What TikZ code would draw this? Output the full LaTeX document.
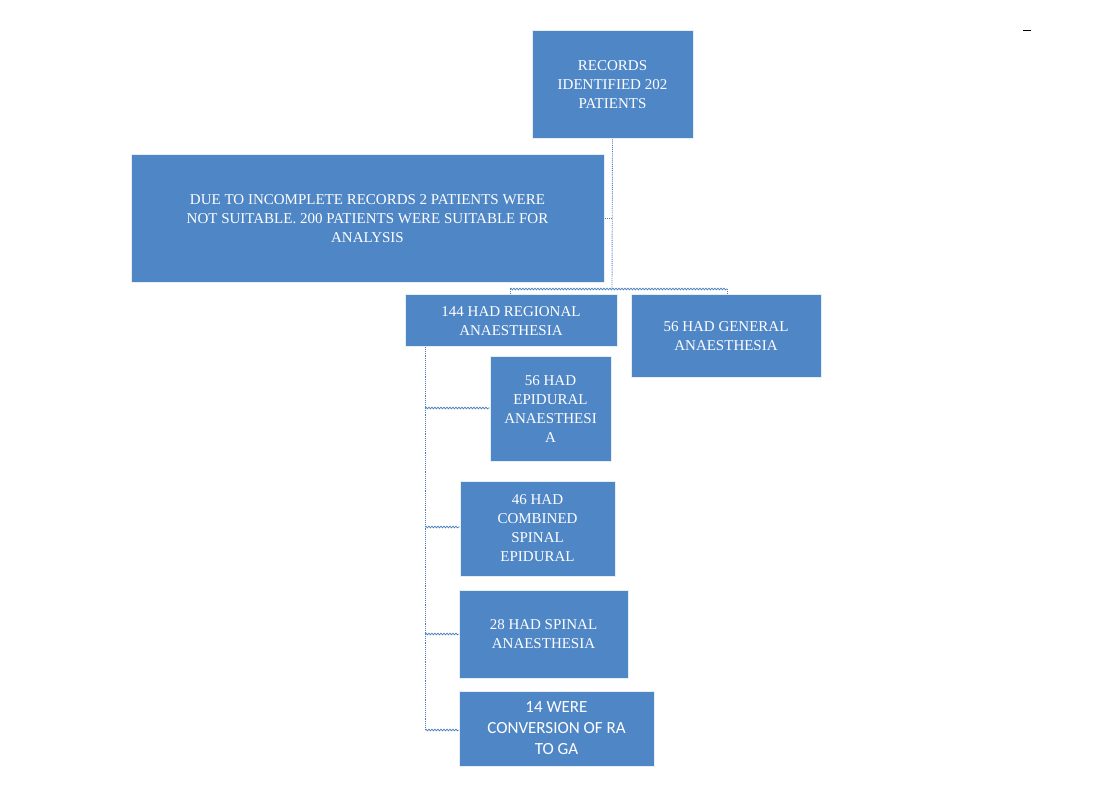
\documentclass[tikz,border=0pt]{standalone}
\usepackage{fontspec}
\setmainfont{Liberation Serif}
\newfontfamily\carl{Carlito}
\usetikzlibrary{decorations.pathmorphing}
\definecolor{boxblue}{HTML}{4F86C6}
\definecolor{linkblue}{HTML}{4A7EBB}
\begin{document}
\begin{tikzpicture}[x=1pt,y=-1pt,
  box/.style={fill=boxblue,draw=white!85!boxblue,line width=1pt,text=white,align=center,font=\fontsize{15}{19}\selectfont,inner sep=0pt},
  link/.style={draw=linkblue,line width=0.9pt,densely dotted},
  wavy/.style={draw=linkblue,line width=0.7pt,decorate,decoration={snake,amplitude=0.9pt,segment length=3pt}}]
\useasboundingbox (0,0) rectangle (1106,802);
\fill[white] (0,0) rectangle (1106,802);
\def\bx#1#2#3#4#5#6{\node[box,minimum width=#4-#2,minimum height=#5-#3] (#1) at ({(#2+#4)/2},{(#3+#5)/2}) {#6};}
\bx{rec}{532}{31}{693}{139}{RECORDS\\IDENTIFIED 202\\PATIENTS}
\bx{due}{131}{155}{604}{283}{DUE TO INCOMPLETE RECORDS 2 PATIENTS WERE\\NOT SUITABLE. 200 PATIENTS WERE SUITABLE FOR\\ANALYSIS}
\bx{reg}{405}{295}{617}{347}{144 HAD REGIONAL\\ANAESTHESIA}
\bx{gen}{631}{295}{821}{377}{56 HAD GENERAL\\ANAESTHESIA}
\bx{epi}{490}{357}{611}{461}{56 HAD\\EPIDURAL\\ANAESTHESI\\A}
\bx{cse}{460}{481}{615}{576}{46 HAD\\COMBINED\\SPINAL\\EPIDURAL}
\bx{spi}{459}{590}{628}{678}{28 HAD SPINAL\\ANAESTHESIA}
\node[box,minimum width=195,minimum height=75,font=\carl\fontsize{17}{21}\selectfont] (con) at (556.5,728.5) {14 WERE\\CONVERSION OF RA\\TO GA};
\coordinate (j) at (612,289);
\draw[link] (rec.south) -- (j);
\draw[link] (612,218) -- (due.east |- 0,218);
\draw[wavy] (510,289) -- (727,289);
\draw[link] (510,289) -- (reg.north -| 510,0);
\draw[link] (727,289) -- (gen.north -| 727,0);
\coordinate (v) at (425,730);
\draw[link] (425,347) -- (v);
\draw[wavy] (425,408) -- (epi.west |- 0,408);
\draw[wavy] (425,527) -- (cse.west |- 0,527);
\draw[wavy] (425,634) -- (spi.west |- 0,634);
\draw[wavy] (v) -- (con.west |- v);
\draw[black,line width=0.8pt] (1023,30) -- (1031,30);
\end{tikzpicture}
\end{document}
